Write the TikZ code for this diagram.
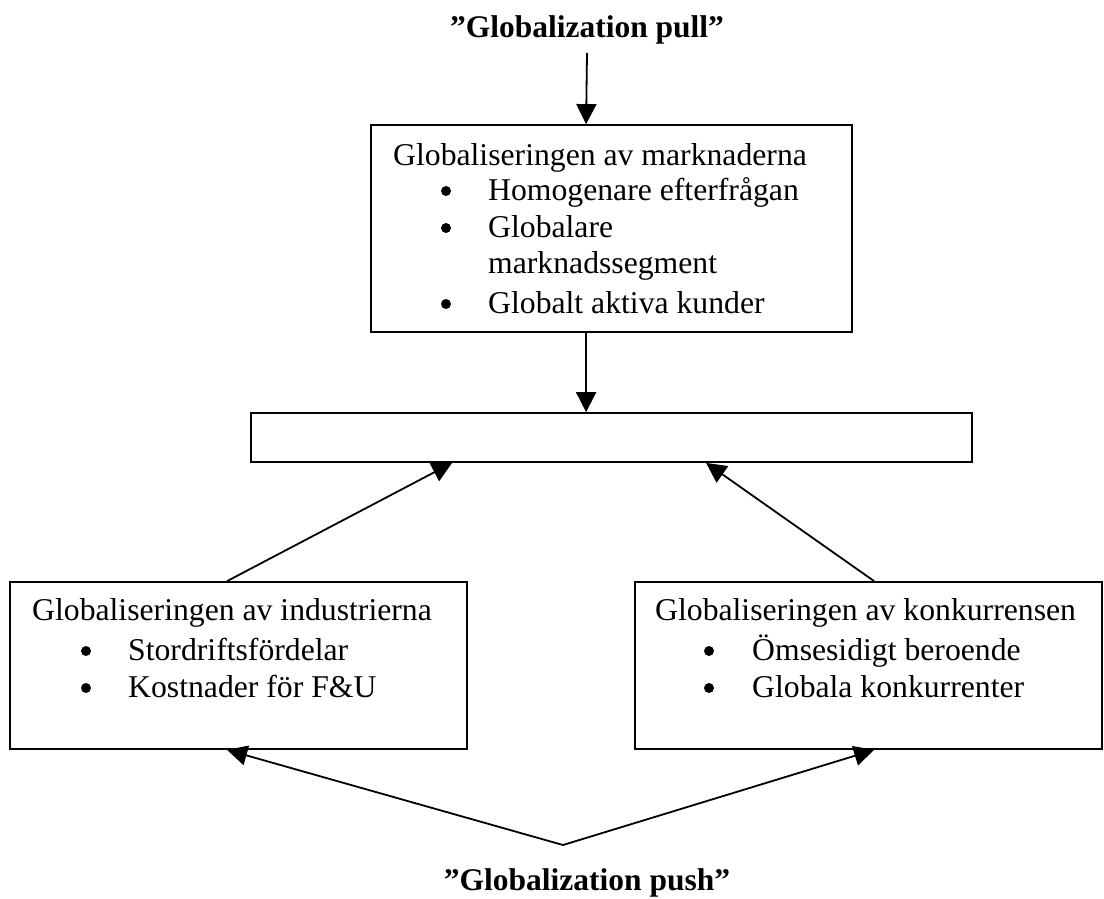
\documentclass[tikz,border=0pt]{standalone}
\usepackage{fontspec}
\setmainfont{Liberation Serif}
\usetikzlibrary{arrows.meta}
\begin{document}
\begin{tikzpicture}[x=1pt,y=1pt,
  box/.style={draw,line width=1.8pt,rectangle,inner sep=0pt},
  txt/.style={anchor=base west,inner sep=0pt,font=\fontsize{31.7}{37}\selectfont},
  bul/.style={circle,fill,inner sep=0pt,minimum size=10pt},
  ttl/.style={anchor=base,inner sep=0pt,font=\fontsize{31.5}{38}\selectfont\bfseries},
  arr/.style={line width=1.8pt,-{Triangle[length=20pt,width=20pt]}}]
\useasboundingbox (0,0) rectangle (1104,-898);
% boxes
\node[box,minimum width=481pt,minimum height=207pt] (top) at (611.5,-228.5) {};
\node[box,minimum width=721pt,minimum height=49pt] (mid) at (611.5,-437.5) {};
\node[box,minimum width=457pt,minimum height=167pt] (left) at (238.5,-665.5) {};
\node[box,minimum width=467pt,minimum height=167pt] (right) at (868.5,-665.5) {};
% titles
\node[ttl] (pull) at (587,-37) {”Globalization pull”};
\node[ttl] (push) at (587,-890) {”Globalization push”};
% top box text
\node[txt] (t0) at (393,-165) {Globaliseringen av marknaderna};
\node[bul] (b1) at (446,-191) {};
\node[txt] (t1) at (488,-200) {Homogenare efterfrågan};
\node[bul] (b2) at (446,-228) {};
\node[txt] (t2) at (488,-237) {Globalare};
\node[txt] (t2b) at (488,-273) {marknadssegment};
\node[bul] (b3) at (446,-304) {};
\node[txt] (t3) at (488,-313) {Globalt aktiva kunder};
% left box text
\node[txt] (l0) at (32,-620) {Globaliseringen av industrierna};
\node[bul] (lb1) at (86,-651) {};
\node[txt] (l1) at (128,-660) {Stordriftsfördelar};
\node[bul] (lb2) at (86,-688) {};
\node[txt] (l2) at (128,-697) {Kostnader för F\&U};
% right box text
\node[txt] (r0) at (655,-620) {Globaliseringen av konkurrensen};
\node[bul] (rb1) at (709,-651) {};
\node[txt] (r1) at (752,-660) {Ömsesidigt beroende};
\node[bul] (rb2) at (709,-688) {};
\node[txt] (r2) at (752,-697) {Globala konkurrenter};
% connectors
\draw[arr] ([yshift=-9pt]pull.south) -- ([xshift=216pt]top.north west);
\draw[arr] ([xshift=216pt]top.south west) -- ([xshift=336pt]mid.north west);
\draw[arr] ([xshift=218pt]left.north west) -- ([xshift=202pt]mid.south west);
\draw[arr] ([xshift=240pt]right.north west) -- ([xshift=456pt]mid.south west);
\coordinate (v) at (563,-845);
\draw[arr] (v) -- ([xshift=218pt]left.south west);
\draw[arr] (v) -- ([xshift=240pt]right.south west);
\end{tikzpicture}
\end{document}
